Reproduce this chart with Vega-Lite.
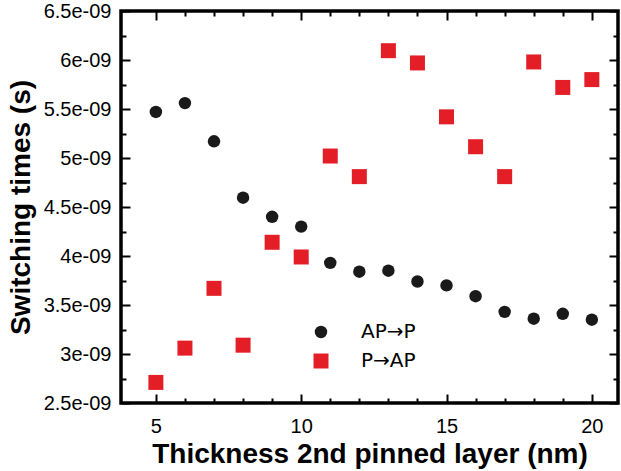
{
  "$schema": "https://vega.github.io/schema/vega-lite/v6.json",
  "width": 497,
  "height": 392,
  "autosize": "none",
  "padding": {"left": 121, "top": 11, "right": 3, "bottom": 68},
  "background": "white",
  "config": {
    "view": {"stroke": "black", "strokeWidth": 3.5},
    "font": "Liberation Sans",
    "axis": {
      "domain": false,
      "grid": false,
      "tickColor": "black",
      "tickWidth": 2,
      "labelFont": "Liberation Sans",
      "labelFontSize": 20,
      "labelColor": "black",
      "titleFont": "Liberation Sans",
      "titleFontSize": 28,
      "titleFontWeight": "bold",
      "titleColor": "black"
    },
    "legend": {
      "labelFont": "DejaVu Sans",
      "labelFontSize": 20,
      "labelColor": "black"
    }
  },
  "data": {
    "values": [
      {"thickness": 5, "time": 5.47e-9, "series": "AP→P"},
      {"thickness": 6, "time": 5.56e-9, "series": "AP→P"},
      {"thickness": 7, "time": 5.17e-9, "series": "AP→P"},
      {"thickness": 8, "time": 4.595e-9, "series": "AP→P"},
      {"thickness": 9, "time": 4.40e-9, "series": "AP→P"},
      {"thickness": 10, "time": 4.30e-9, "series": "AP→P"},
      {"thickness": 11, "time": 3.93e-9, "series": "AP→P"},
      {"thickness": 12, "time": 3.84e-9, "series": "AP→P"},
      {"thickness": 13, "time": 3.85e-9, "series": "AP→P"},
      {"thickness": 14, "time": 3.74e-9, "series": "AP→P"},
      {"thickness": 15, "time": 3.70e-9, "series": "AP→P"},
      {"thickness": 16, "time": 3.59e-9, "series": "AP→P"},
      {"thickness": 17, "time": 3.43e-9, "series": "AP→P"},
      {"thickness": 18, "time": 3.36e-9, "series": "AP→P"},
      {"thickness": 19, "time": 3.41e-9, "series": "AP→P"},
      {"thickness": 20, "time": 3.35e-9, "series": "AP→P"},
      {"thickness": 5, "time": 2.71e-9, "series": "P→AP"},
      {"thickness": 6, "time": 3.06e-9, "series": "P→AP"},
      {"thickness": 7, "time": 3.67e-9, "series": "P→AP"},
      {"thickness": 8, "time": 3.09e-9, "series": "P→AP"},
      {"thickness": 9, "time": 4.14e-9, "series": "P→AP"},
      {"thickness": 10, "time": 3.99e-9, "series": "P→AP"},
      {"thickness": 11, "time": 5.02e-9, "series": "P→AP"},
      {"thickness": 12, "time": 4.81e-9, "series": "P→AP"},
      {"thickness": 13, "time": 6.095e-9, "series": "P→AP"},
      {"thickness": 14, "time": 5.97e-9, "series": "P→AP"},
      {"thickness": 15, "time": 5.42e-9, "series": "P→AP"},
      {"thickness": 16, "time": 5.115e-9, "series": "P→AP"},
      {"thickness": 17, "time": 4.81e-9, "series": "P→AP"},
      {"thickness": 18, "time": 5.98e-9, "series": "P→AP"},
      {"thickness": 19, "time": 5.72e-9, "series": "P→AP"},
      {"thickness": 20, "time": 5.80e-9, "series": "P→AP"}
    ]
  },
  "layer": [
    {
      "transform": [{"filter": "datum.series == 'AP→P'"}],
      "mark": {"type": "point", "filled": true, "opacity": 1},
      "encoding": {
        "x": {
          "field": "thickness", "type": "quantitative",
          "scale": {"domain": [3.8, 20.9], "nice": false, "zero": false},
          "axis": {
            "orient": "bottom",
            "title": "Thickness 2nd pinned layer (nm)",
            "values": [5,6,7,8,9,10,11,12,13,14,15,16,17,18,19,20],
            "labelExpr": "datum.value % 5 == 0 ? datum.label : ''",
            "tickSize": {"condition": {"test": "datum.value % 5 == 0", "value": -9}, "value": -5},
            "labelPadding": 22,
            "titlePadding": 4
          }
        },
        "y": {
          "field": "time", "type": "quantitative",
          "scale": {"domain": [2.5e-9, 6.5e-9], "nice": false, "zero": false},
          "axis": {
            "orient": "left",
            "title": "Switching times (s)",
            "values": [2.5e-9,2.75e-9,3e-9,3.25e-9,3.5e-9,3.75e-9,4e-9,4.25e-9,4.5e-9,4.75e-9,5e-9,5.25e-9,5.5e-9,5.75e-9,6e-9,6.25e-9,6.5e-9],
            "labelExpr": "abs(datum.value*2e9 - round(datum.value*2e9)) < 0.001 ? format(datum.value*1e9, '~g') + 'e-09' : ''",
            "tickSize": {"condition": {"test": "abs(datum.value*2e9 - round(datum.value*2e9)) < 0.001", "value": -9}, "value": -5},
            "labelPadding": 19,
            "titlePadding": 8
          }
        },
        "color": {"field": "series", "type": "nominal", "scale": {"domain": ["AP→P", "P→AP"], "range": ["#1a1a1a", "#e41e26"]},
          "legend": {"title": null, "orient": "none", "legendX": 190, "legendY": 311, "labelOffset": 30, "rowPadding": 9, "padding": 0}},
        "shape": {"field": "series", "type": "nominal", "scale": {"domain": ["AP→P", "P→AP"], "range": ["circle", "square"]},
          "legend": {"title": null, "orient": "none", "legendX": 190, "legendY": 311, "labelOffset": 30, "rowPadding": 9, "padding": 0}},
        "size": {"field": "series", "type": "nominal", "scale": {"domain": ["AP→P", "P→AP"], "range": [155, 225]},
          "legend": {"title": null, "orient": "none", "legendX": 190, "legendY": 311, "labelOffset": 30, "rowPadding": 9, "padding": 0}}
      }
    },
    {
      "transform": [{"filter": "datum.series == 'P→AP'"}],
      "mark": {"type": "point", "filled": true, "opacity": 1},
      "encoding": {
        "x": {
          "field": "thickness", "type": "quantitative",
          "scale": {"domain": [3.8, 20.9], "nice": false, "zero": false},
          "axis": {
            "orient": "top",
            "title": null,
            "labels": false,
            "values": [5,6,7,8,9,10,11,12,13,14,15,16,17,18,19,20],
            "tickSize": {"condition": {"test": "datum.value % 5 == 0", "value": -9}, "value": -5}
          }
        },
        "y": {
          "field": "time", "type": "quantitative",
          "scale": {"domain": [2.5e-9, 6.5e-9], "nice": false, "zero": false},
          "axis": {
            "orient": "right",
            "title": null,
            "labels": false,
            "values": [2.5e-9,2.75e-9,3e-9,3.25e-9,3.5e-9,3.75e-9,4e-9,4.25e-9,4.5e-9,4.75e-9,5e-9,5.25e-9,5.5e-9,5.75e-9,6e-9,6.25e-9,6.5e-9],
            "tickSize": {"condition": {"test": "abs(datum.value*2e9 - round(datum.value*2e9)) < 0.001", "value": -9}, "value": -5}
          }
        },
        "color": {"field": "series", "type": "nominal", "scale": {"domain": ["AP→P", "P→AP"], "range": ["#1a1a1a", "#e41e26"]}},
        "shape": {"field": "series", "type": "nominal", "scale": {"domain": ["AP→P", "P→AP"], "range": ["circle", "square"]}},
        "size": {"field": "series", "type": "nominal", "scale": {"domain": ["AP→P", "P→AP"], "range": [155, 225]}}
      }
    }
  ],
  "resolve": {"axis": {"x": "independent", "y": "independent"}}
}
